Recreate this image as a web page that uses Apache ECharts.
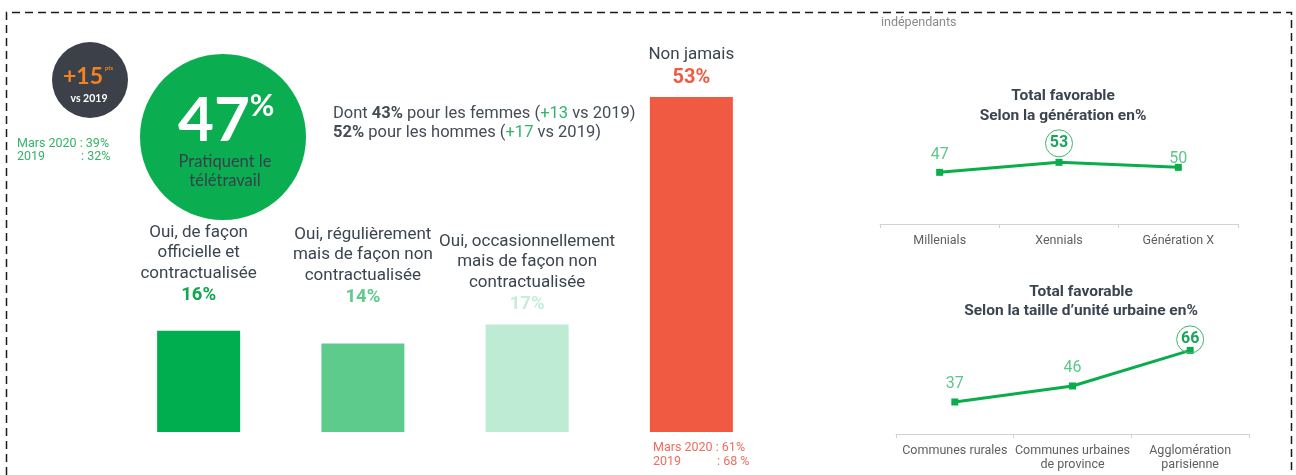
<!DOCTYPE html>
<html>
<head>
<meta charset="utf-8">
<script src="https://cdn.jsdelivr.net/npm/echarts@6/dist/echarts.min.js"></script>
<style>
  html, body { margin: 0; padding: 0; background: #fff; }
  #chart { width: 1296px; height: 475px; }
</style>
</head>
<body>
<div id="chart"></div>
<script>
// données
var barCats = ['Oui, de façon\nofficielle et\ncontractualisée', 'Oui, régulièrement\nmais de façon non\ncontractualisée', 'Oui, occasionnellement\nmais de façon non\ncontractualisée', 'Non jamais'];
var barValues = [16, 14, 17, 53];
var genCats = ['Millenials', 'Xennials', 'Génération X'];
var genValues = [47, 53, 50];
var urbCats = ['Communes rurales', 'Communes urbaines\nde province', 'Agglomération\nparisienne'];
var urbValues = [37, 46, 66];

// styles
var barColors = ['#00ae4f', '#5ccb8c', '#bdebd3', '#f05a42'];
var pctColors = ['#0ea84f', '#5fca8d', '#c5eed8', '#ef5a42'];
var barLabelDist = [23, 34, 8, 6];
var genHighlight = [false, true, false], genDist = [6, 2, -3];
var urbHighlight = [false, false, true], urbDist = [6, 6, -6];

var dark = '#3b4550';
var lineGreen = '#0aad4c';

function barRich(color, big) {
  return {
    c: { fontFamily: 'Roboto', fontSize: 17, color: dark, lineHeight: 20.5, align: 'center' },
    v: { fontFamily: 'Roboto', fontWeight: 'bold', fontSize: big ? 20 : 18.5, color: color, lineHeight: big ? 26 : 24, align: 'center' }
  };
}

function pointLabel(hl, dist) {
  if (!hl) return { distance: dist };
  return {
    distance: dist,
    color: '#1aa65a',
    fontWeight: 'bold',
    width: 27, height: 27, lineHeight: 27,
    borderColor: '#3ab86c', borderWidth: 1, borderRadius: 14,
    align: 'center'
  };
}

var chart = echarts.init(document.getElementById('chart'));

var option = {
  backgroundColor: '#fff',
  animation: false,
  title: [
    { text: 'Total favorable\nSelon la génération en%', left: 1058, top: 81, textAlign: 'center',
      textStyle: { fontFamily: 'Roboto', fontSize: 15.5, fontWeight: 'bold', color: dark, lineHeight: 20 } },
    { text: 'Total favorable\nSelon la taille d\u2019unité urbaine en%', left: 1076, top: 278, textAlign: 'center',
      textStyle: { fontFamily: 'Roboto', fontSize: 15.5, fontWeight: 'bold', color: dark, lineHeight: 19 } }
  ],
  grid: [
    { left: 116.5, width: 657, top: 97, bottom: 43 },
    { left: 880, width: 358, top: 124, bottom: 251 },
    { left: 896, width: 353, top: 334.4, bottom: 41 }
  ],
  xAxis: [
    { gridIndex: 0, type: 'category', data: barCats, show: false },
    { gridIndex: 1, type: 'category', data: genCats,
      axisLine: { lineStyle: { color: '#d3d3d3' } },
      axisTick: { show: true, length: 4, lineStyle: { color: '#d3d3d3' } },
      axisLabel: { interval: 0, color: '#5f5f5f', fontFamily: 'Roboto', fontSize: 12.5, margin: 10 } },
    { gridIndex: 2, type: 'category', data: urbCats,
      axisLine: { lineStyle: { color: '#d3d3d3' } },
      axisTick: { show: true, length: 4, lineStyle: { color: '#d3d3d3' } },
      axisLabel: { interval: 0, color: '#5f5f5f', fontFamily: 'Roboto', fontSize: 12.5, margin: 10, lineHeight: 14 } }
  ],
  yAxis: [
    { gridIndex: 0, type: 'value', min: 0, max: 53, show: false },
    { gridIndex: 1, type: 'value', min: 16, max: 76, show: false },
    { gridIndex: 2, type: 'value', min: 19, max: 75, show: false }
  ],
  series: [
    {
      type: 'bar', xAxisIndex: 0, yAxisIndex: 0, barWidth: 83,
      data: barValues.map(function (v, i) {
        return {
          value: v,
          itemStyle: { color: barColors[i] },
          label: { show: true, position: 'top', distance: barLabelDist[i], rich: barRich(pctColors[i], i === 3) }
        };
      }),
      label: {
        show: true, position: 'top',
        formatter: function (p) {
          var lines = p.name.split('\n').map(function (l) { return '{c|' + l + '}'; }).join('\n');
          return lines + '\n{v|' + p.value + '%}';
        }
      }
    },
    {
      type: 'line', xAxisIndex: 1, yAxisIndex: 1,
      symbol: 'rect', symbolSize: 7,
      lineStyle: { color: lineGreen, width: 3 },
      itemStyle: { color: lineGreen },
      label: { show: true, position: 'top', color: '#5cc789', fontFamily: 'Roboto', fontSize: 16 },
      data: genValues.map(function (v, i) { return { value: v, label: pointLabel(genHighlight[i], genDist[i]) }; })
    },
    {
      type: 'line', xAxisIndex: 2, yAxisIndex: 2,
      symbol: 'rect', symbolSize: 7,
      lineStyle: { color: lineGreen, width: 3 },
      itemStyle: { color: lineGreen },
      label: { show: true, position: 'top', color: '#5cc789', fontFamily: 'Roboto', fontSize: 16 },
      data: urbValues.map(function (v, i) { return { value: v, label: pointLabel(urbHighlight[i], urbDist[i]) }; })
    }
  ],
  graphic: [
    // cadre pointillé
    { type: 'polyline', silent: true,
      shape: { points: [[6.5, 475], [6.5, 12.5], [1291.5, 12.5], [1291.5, 475]] },
      style: { fill: null, stroke: '#1a1a1a', lineWidth: 1.5, lineDash: [8, 5] } },
    { type: 'text', x: 881, y: 23, style: { text: 'indépendants', font: '12.5px Roboto', fill: '#8a8a8a', textVerticalAlign: 'middle' } },

    // pastille +15
    { type: 'circle', shape: { cx: 90, cy: 80, r: 38 }, style: { fill: '#3b4049' } },
    { type: 'text', x: 83, y: 77, style: { text: '+15', font: 'bold 23px Lato', fill: '#f58220', textAlign: 'center', textVerticalAlign: 'middle' } },
    { type: 'text', x: 109, y: 68, style: { text: 'pts', font: 'bold 6px Lato', fill: '#f58220', textAlign: 'center', textVerticalAlign: 'middle' } },
    { type: 'text', x: 89, y: 99, style: { text: 'vs 2019', font: 'bold 10.5px Lato', fill: '#ffffff', textAlign: 'center', textVerticalAlign: 'middle' } },
    { type: 'text', x: 17, y: 144, style: { text: 'Mars 2020 : 39%', font: '12.5px Roboto', fill: '#35b36a', textVerticalAlign: 'middle' } },
    { type: 'text', x: 17, y: 157, style: { text: '2019', font: '12.5px Roboto', fill: '#35b36a', textVerticalAlign: 'middle' } },
    { type: 'text', x: 81, y: 157, style: { text: ': 32%', font: '12.5px Roboto', fill: '#35b36a', textVerticalAlign: 'middle' } },

    // grand cercle 47%
    { type: 'circle', shape: { cx: 223, cy: 137, r: 83 }, style: { fill: '#0aad4f' } },
    { type: 'text', x: 214, y: 121, style: { text: '47', font: 'bold 62px Lato', fill: '#ffffff', textAlign: 'center', textVerticalAlign: 'middle' } },
    { type: 'text', x: 262, y: 106, style: { text: '%', font: 'bold 30px Lato', fill: '#ffffff', textAlign: 'center', textVerticalAlign: 'middle' } },
    { type: 'text', x: 225, y: 162, style: { text: 'Pratiquent le', font: '16.5px Lato', fill: '#37414b', textAlign: 'center', textVerticalAlign: 'middle' } },
    { type: 'text', x: 225, y: 181, style: { text: 'télétravail', font: '16.5px Lato', fill: '#37414b', textAlign: 'center', textVerticalAlign: 'middle' } },

    // texte femmes / hommes
    { type: 'text', x: 333, y: 104,
      style: {
        text: '{n|Dont }{b|43%}{n| pour les femmes (}{g|+13}{n| vs 2019)}\n{b|52%}{n| pour les hommes (}{g|+17}{n| vs 2019)}',
        rich: {
          n: { font: '16.5px Roboto', fill: '#444c56', lineHeight: 19 },
          b: { font: 'bold 16.5px Roboto', fill: '#444c56', lineHeight: 19 },
          g: { font: '16.5px Roboto', fill: '#2fb56a', lineHeight: 19 }
        }
      } },

    // sous la barre rouge
    { type: 'text', x: 653, y: 448, style: { text: 'Mars 2020 : 61%', font: '12.5px Roboto', fill: '#f06c5c', textVerticalAlign: 'middle' } },
    { type: 'text', x: 653, y: 462, style: { text: '2019', font: '12.5px Roboto', fill: '#f06c5c', textVerticalAlign: 'middle' } },
    { type: 'text', x: 717, y: 462, style: { text: ': 68 %', font: '12.5px Roboto', fill: '#f06c5c', textVerticalAlign: 'middle' } }
  ]
};

chart.setOption(option);
</script>
</body>
</html>
